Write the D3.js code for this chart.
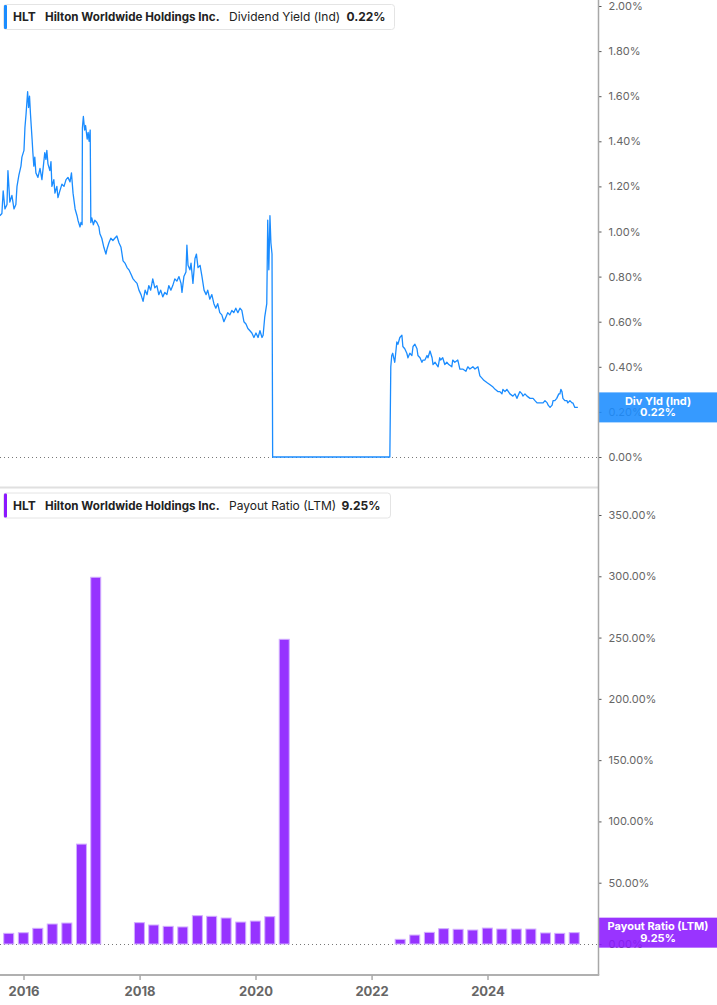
<!DOCTYPE html>
<html><head><meta charset="utf-8">
<script src="https://cdn.jsdelivr.net/npm/d3@7"></script>
<style>body{margin:0;background:#fff} text{font-family:Inter,"Noto Sans",sans-serif}</style>
</head><body><svg id="c" width="717" height="1005"></svg>
<script>
const ticker = "HLT";
const company = "Hilton Worldwide Holdings Inc.";
const yieldLabel = "Dividend Yield (Ind)";
const yieldBadge = "Div Yld (Ind)";
const yieldLast = 0.22;
const payoutLabel = "Payout Ratio (LTM)";
const payoutLast = 9.25;
const yieldTicks = [0, 0.2, 0.4, 0.6, 0.8, 1.0, 1.2, 1.4, 1.6, 1.8, 2.0];
const payoutTicks = [0, 50, 100, 150, 200, 250, 300, 350];
const yearTicks = ["2016-01-01", "2018-01-01", "2020-01-01", "2022-01-01", "2024-01-01"];

const yieldPoints = [
["2015-08-05",1.07],["2015-08-18",1.08],["2015-08-26",1.18],["2015-09-06",1.10],["2015-09-19",1.12],
["2015-09-25",1.27],["2015-10-07",1.13],["2015-10-20",1.16],["2015-11-02",1.10],["2015-11-14",1.12],
["2015-11-21",1.20],["2015-12-03",1.25],["2015-12-16",1.29],["2015-12-22",1.33],["2016-01-04",1.36],
["2016-01-10",1.46],["2016-01-17",1.52],["2016-01-23",1.58],["2016-01-27",1.62],["2016-02-02",1.55],
["2016-02-08",1.60],["2016-02-14",1.52],["2016-02-24",1.41],["2016-02-29",1.35],["2016-03-06",1.29],
["2016-03-12",1.33],["2016-03-19",1.26],["2016-04-01",1.24],["2016-04-14",1.28],["2016-04-26",1.23],
["2016-05-02",1.27],["2016-05-14",1.35],["2016-05-21",1.32],["2016-05-27",1.36],["2016-06-03",1.30],
["2016-06-15",1.27],["2016-06-22",1.31],["2016-06-28",1.20],["2016-07-10",1.23],["2016-07-17",1.17],
["2016-07-29",1.20],["2016-08-05",1.15],["2016-08-17",1.18],["2016-08-30",1.21],["2016-09-12",1.20],
["2016-09-25",1.23],["2016-10-07",1.24],["2016-10-20",1.22],["2016-10-29",1.26],["2016-11-08",1.17],
["2016-11-21",1.10],["2016-12-03",1.07],["2016-12-09",1.05],["2016-12-22",1.02],["2016-12-28",1.04],
["2017-01-04",1.03],["2017-01-06",1.46],["2017-01-12",1.51],["2017-01-20",1.45],["2017-01-26",1.47],
["2017-02-05",1.41],["2017-02-11",1.44],["2017-02-17",1.40],["2017-02-24",1.45],["2017-02-28",1.04],
["2017-03-06",1.06],["2017-03-16",1.03],["2017-03-25",1.05],["2017-04-07",1.04],["2017-04-20",1.02],
["2017-04-26",0.99],["2017-05-08",0.97],["2017-05-21",0.93],["2017-06-03",0.90],["2017-06-09",0.92],
["2017-06-22",0.95],["2017-07-04",0.97],["2017-07-17",0.96],["2017-07-29",0.97],["2017-08-11",0.98],
["2017-08-24",0.95],["2017-09-06",0.93],["2017-09-19",0.87],["2017-10-01",0.86],["2017-10-14",0.84],
["2017-10-26",0.83],["2017-11-08",0.81],["2017-11-21",0.79],["2017-12-03",0.78],["2017-12-16",0.77],
["2017-12-28",0.74],["2018-01-10",0.72],["2018-01-23",0.69],["2018-02-05",0.74],["2018-02-17",0.72],
["2018-02-28",0.76],["2018-03-12",0.74],["2018-03-25",0.79],["2018-04-07",0.75],["2018-04-20",0.76],
["2018-05-02",0.72],["2018-05-14",0.74],["2018-05-27",0.71],["2018-06-09",0.73],["2018-06-22",0.72],
["2018-07-04",0.76],["2018-07-17",0.74],["2018-07-29",0.76],["2018-08-11",0.79],["2018-08-24",0.78],
["2018-09-06",0.80],["2018-09-19",0.77],["2018-09-25",0.73],["2018-10-07",0.80],["2018-10-20",0.82],
["2018-10-26",0.94],["2018-11-02",0.85],["2018-11-14",0.83],["2018-11-21",0.86],["2018-12-03",0.77],
["2018-12-16",0.88],["2018-12-25",0.90],["2019-01-04",0.84],["2019-01-17",0.85],["2019-01-29",0.80],
["2019-02-11",0.74],["2019-02-24",0.72],["2019-03-06",0.74],["2019-03-19",0.70],["2019-04-01",0.72],
["2019-04-14",0.68],["2019-04-26",0.66],["2019-05-08",0.68],["2019-05-21",0.64],["2019-06-03",0.63],
["2019-06-16",0.60],["2019-06-28",0.62],["2019-07-10",0.64],["2019-07-23",0.63],["2019-08-05",0.65],
["2019-08-17",0.64],["2019-08-30",0.66],["2019-09-12",0.64],["2019-09-25",0.66],["2019-10-07",0.65],
["2019-10-20",0.60],["2019-11-02",0.59],["2019-11-14",0.57],["2019-11-27",0.56],["2019-12-09",0.55],
["2019-12-22",0.53],["2020-01-04",0.55],["2020-01-17",0.53],["2020-01-29",0.56],["2020-02-11",0.53],
["2020-02-18",0.54],["2020-02-28",0.62],["2020-03-12",0.68],["2020-03-18",1.05],["2020-03-25",0.83],
["2020-04-01",1.07],["2020-04-07",0.95],["2020-04-14",0.90],["2020-04-18",0.00],["2020-10-01",0.00],
["2021-04-01",0.00],["2021-10-01",0.00],["2022-04-26",0.00],["2022-05-02",0.40],["2022-05-08",0.45],
["2022-05-14",0.46],["2022-05-27",0.42],["2022-06-09",0.51],["2022-06-16",0.50],["2022-06-28",0.53],
["2022-07-11",0.54],["2022-07-17",0.49],["2022-07-29",0.48],["2022-08-11",0.46],["2022-08-18",0.44],
["2022-08-30",0.46],["2022-09-12",0.45],["2022-09-19",0.49],["2022-10-01",0.50],["2022-10-14",0.48],
["2022-10-20",0.45],["2022-11-02",0.44],["2022-11-14",0.42],["2022-11-21",0.43],["2022-12-03",0.43],
["2022-12-16",0.45],["2022-12-22",0.44],["2023-01-04",0.47],["2023-01-17",0.44],["2023-01-23",0.41],
["2023-02-05",0.42],["2023-02-24",0.40],["2023-03-06",0.44],["2023-03-12",0.43],["2023-03-25",0.44],
["2023-04-07",0.41],["2023-04-20",0.42],["2023-05-02",0.41],["2023-05-21",0.40],["2023-05-27",0.43],
["2023-06-09",0.42],["2023-06-28",0.43],["2023-07-11",0.39],["2023-07-29",0.39],["2023-08-18",0.38],
["2023-08-30",0.40],["2023-09-12",0.39],["2023-10-01",0.40],["2023-10-14",0.39],["2023-11-02",0.40],
["2023-11-14",0.36],["2023-11-27",0.35],["2023-12-09",0.34],["2023-12-28",0.33],["2024-01-17",0.32],
["2024-02-05",0.31],["2024-02-18",0.30],["2024-03-06",0.29],["2024-03-19",0.29],["2024-04-01",0.28],
["2024-04-07",0.30],["2024-04-20",0.29],["2024-05-02",0.30],["2024-05-21",0.28],["2024-06-09",0.27],
["2024-06-22",0.28],["2024-07-04",0.26],["2024-07-23",0.29],["2024-08-05",0.28],["2024-08-11",0.27],
["2024-08-24",0.28],["2024-09-06",0.27],["2024-09-25",0.26],["2024-10-14",0.26],["2024-10-26",0.25],
["2024-11-08",0.24],["2024-11-27",0.24],["2024-12-16",0.24],["2024-12-28",0.25],["2025-01-11",0.24],
["2025-01-17",0.23],["2025-01-29",0.22],["2025-02-11",0.23],["2025-02-17",0.25],["2025-02-28",0.25],
["2025-03-12",0.26],["2025-03-25",0.28],["2025-04-01",0.28],["2025-04-07",0.30],["2025-04-14",0.29],
["2025-04-20",0.26],["2025-05-02",0.25],["2025-05-15",0.25],["2025-05-21",0.24],["2025-06-03",0.25],
["2025-06-16",0.24],["2025-06-22",0.24],["2025-07-04",0.22],["2025-07-17",0.22],["2025-07-23",0.22]
];

const payoutQuarters = ["2015-09-30","2015-12-31","2016-03-31","2016-06-30","2016-09-30","2016-12-31","2017-03-31",
"2017-12-31","2018-03-31","2018-06-30","2018-09-30","2018-12-31","2019-03-31","2019-06-30","2019-09-30","2019-12-31","2020-03-31","2020-06-30",
"2022-06-30","2022-09-30","2022-12-31","2023-03-31","2023-06-30","2023-09-30","2023-12-31","2024-03-31","2024-06-30","2024-09-30","2024-12-31","2025-03-31","2025-06-30"];
const payoutValues = [8.7,9.2,12.8,16.3,17.1,81.5,299.2,
17.4,15.5,14.4,13.9,23.1,22.6,21.2,17.9,18.7,22.3,248.6,
3.8,7.3,9.5,12.5,12.0,11.4,13.0,12.2,12.2,12.2,9.0,8.7,9.25];

const parse = d3.utcParse("%Y-%m-%d");
const svg = d3.select("#c");
const W = 717, axisX = 598.5;

const x = d3.scaleUtc().domain([parse("2016-01-01"), parse("2024-01-01")]).range([23.5, 487.5]);
const yY = d3.scaleLinear().domain([0, 2]).range([457, 6]);
const yB = d3.scaleLinear().domain([0, 350]).range([944, 515]);

const blue = "#1a8cff", purple = "#9633ff";

// separator between panels
svg.append("line").attr("x1",0).attr("x2",axisX).attr("y1",487.5).attr("y2",487.5)
  .attr("stroke","#e0e0e0").attr("stroke-width",2);

// zero dotted lines
[yY(0), yB(0)].forEach(yy => {
  svg.append("line").attr("x1",0).attr("x2",axisX).attr("y1",yy+0.5).attr("y2",yy+0.5)
    .attr("stroke","#777").attr("stroke-width",1).attr("stroke-dasharray","1,3");
});

// yield line
const data = yieldPoints.map(d => ({date: parse(d[0]), v: d[1]}));
svg.append("clipPath").attr("id","cl").append("rect").attr("x",0).attr("y",0).attr("width",axisX).attr("height",480);
svg.append("path").datum(data).attr("clip-path","url(#cl)")
  .attr("fill","none").attr("stroke",blue).attr("stroke-width",1.3).attr("stroke-linejoin","round")
  .attr("d", d3.line().x(d => x(d.date)).y(d => yY(d.v)));

// payout bars
svg.append("g").selectAll("rect").data(payoutQuarters.map((q,i)=>({date:parse(q), v:payoutValues[i]})))
  .join("rect")
  .attr("x", d => x(d.date) - 5).attr("width", 10)
  .attr("y", d => yB(d.v)).attr("height", d => yB(0) - yB(d.v))
  .attr("fill", purple).attr("stroke","#d2aeff").attr("stroke-width",1);

// right axes
function rightAxis(scale, ticks, fmt) {
  const g = svg.append("g").attr("transform",`translate(${axisX},0)`)
    .call(d3.axisRight(scale).tickValues(ticks).tickSize(3).tickPadding(7).tickFormat(fmt));
  g.select(".domain").remove();
  g.selectAll(".tick line").attr("stroke","#555");
  g.selectAll(".tick text").attr("fill","#666").attr("font-size",11).attr("font-family","Inter, sans-serif");
}
rightAxis(yY, yieldTicks, d => d.toFixed(2) + "%");
rightAxis(yB, payoutTicks, d => d.toFixed(2) + "%");

// badges
function badge(cy, color, l1, l2) {
  svg.append("rect").attr("x",599).attr("y",cy-15).attr("width",W-599).attr("height",30)
    .attr("fill",color).attr("fill-opacity",0.88);
  svg.append("text").attr("x",658).attr("y",cy-2.5).attr("text-anchor","middle").attr("fill","#fff")
    .attr("font-size",11).attr("font-weight",700).text(l1);
  svg.append("text").attr("x",658).attr("y",cy+9).attr("text-anchor","middle").attr("fill","#fff")
    .attr("font-size",11).attr("font-weight",700).text(l2);
}
badge(yY(yieldLast), "#1a8cff", yieldBadge, yieldLast.toFixed(2) + "%");
badge(yB(payoutLast), "#8b18ff", payoutLabel, payoutLast.toFixed(2) + "%");

// frame
svg.append("line").attr("x1",axisX).attr("x2",axisX).attr("y1",0).attr("y2",975)
  .attr("stroke","#a8a8a8").attr("stroke-width",1.5);
svg.append("line").attr("x1",0).attr("x2",axisX+0.75).attr("y1",975).attr("y2",975)
  .attr("stroke","#b0b0b0").attr("stroke-width",2);

// x axis
const gx = svg.append("g").attr("transform","translate(0,975)")
  .call(d3.axisBottom(x).tickValues(yearTicks.map(parse)).tickSize(5).tickPadding(7).tickFormat(d3.utcFormat("%Y")));
gx.select(".domain").remove();
gx.selectAll(".tick line").attr("stroke","#aaa").attr("stroke-width",1.5);
gx.selectAll(".tick text").attr("fill","#666").attr("font-size",13).attr("font-weight",700).attr("font-family","Inter, sans-serif");

// legends
function legend(y0, w, color, label, value, valueX) {
  const g = svg.append("g");
  g.append("rect").attr("x",3.5).attr("y",y0+0.5).attr("width",w).attr("height",25).attr("rx",3)
    .attr("fill","#fff").attr("stroke","#e4e4e4");
  g.append("rect").attr("x",4).attr("y",y0+1).attr("width",3).attr("height",24).attr("rx",1).attr("fill",color);
  const by = y0 + 17;
  g.append("text").attr("x",13).attr("y",by).attr("font-size",12).attr("font-weight",700).attr("fill","#222").text(ticker);
  g.append("text").attr("x",45).attr("y",by).attr("font-size",11.6).attr("font-weight",700).attr("fill","#222").text(company);
  g.append("text").attr("x",229).attr("y",by).attr("font-size",12).attr("fill","#222").text(label);
  g.append("text").attr("x",valueX).attr("y",by).attr("font-size",12).attr("font-weight",700).attr("fill","#222").text(value);
}
legend(4, 391, blue, yieldLabel, yieldLast.toFixed(2) + "%", 346.5);
legend(492.5, 387, "#8b18ff", payoutLabel, payoutLast.toFixed(2) + "%", 341.5);
</script></body></html>
